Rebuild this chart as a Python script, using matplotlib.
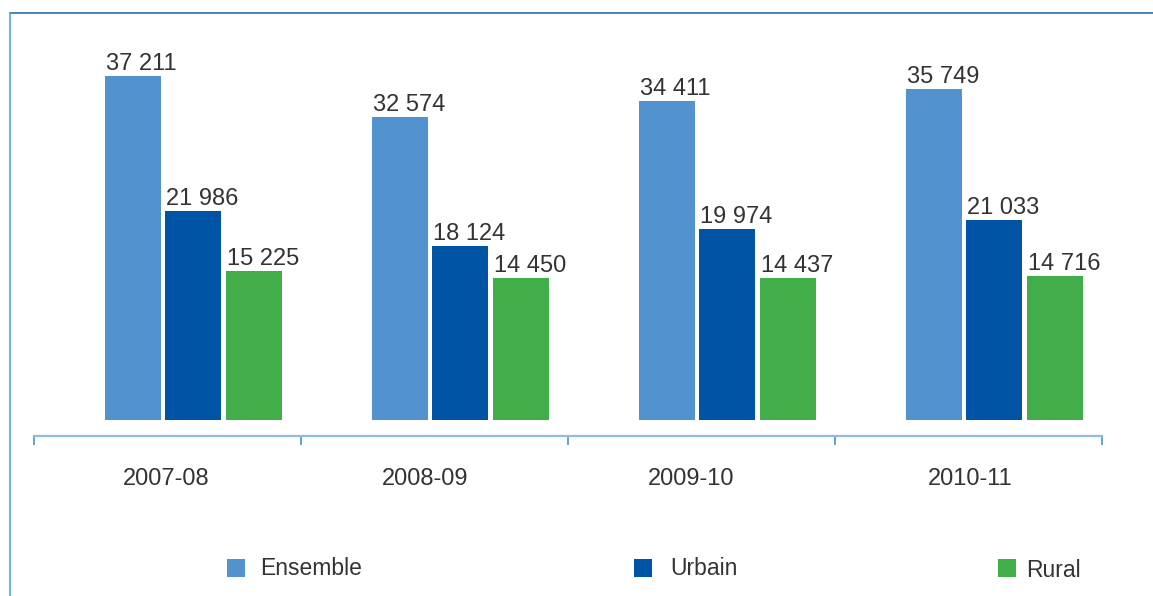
import matplotlib
matplotlib.use('Agg')
import matplotlib.pyplot as plt
from matplotlib.patches import Rectangle
from matplotlib.lines import Line2D
import numpy as np

plt.rcParams['font.family'] = ['Liberation Sans', 'DejaVu Sans']

# ---- data ----
years = ['2007-08', '2008-09', '2009-10', '2010-11']
series = ['Ensemble', 'Urbain', 'Rural']
ensemble = [37211, 32574, 34411, 35749]
urbain = [21986, 18124, 19974, 21033]
rural = [15225, 14450, 14437, 14716]

colors = ['#5292CE', '#0054A6', '#41AE49']
text_color = '#333333'

W, H = 1153, 596
fig = plt.figure(figsize=(W / 100, H / 100), dpi=100)


def fx(px):
    return px / W


def fy(py):
    return 1 - py / H


ax = fig.add_axes([fx(34), fy(420), fx(1102) - fx(34), fy(20) - fy(420)])
base = -1470
ax.set_xlim(-0.5, 3.5)
ax.set_ylim(base, base + 400 / 0.0089)

x = np.arange(len(years))
group_shift = 0.097
spacing = 0.2266
width = 0.21
for k, (vals, c) in enumerate(zip([ensemble, urbain, rural], colors)):
    pos = x + group_shift + (k - 1) * spacing
    heights = np.array(vals) - base
    ax.bar(pos, heights, bottom=base, width=width, color=c, align='center')
    for p, v in zip(pos, vals):
        ax.annotate(f"{v:,}".replace(",", " "), xy=(p - width / 2, v),
                    xytext=(0.7, 4.3), textcoords='offset points',
                    ha='left', va='baseline', fontsize=17, color=text_color)

for s in ['left', 'right', 'top']:
    ax.spines[s].set_visible(False)
ax.spines['bottom'].set_position(('outward', 11.5))
ax.spines['bottom'].set_color('#8BBDE3')
ax.spines['bottom'].set_linewidth(1.6)
ax.set_yticks([])
ax.set_xticks(np.arange(-0.5, 4, 1))
ax.set_xticklabels([''] * 5)
ax.tick_params(axis='x', which='major', length=6.5, width=1.1,
               color='#3C87C7', direction='out', labelbottom=False)

# category labels (slightly offset from interval centres, as in the original)
label_dx_px = [-1, -9, -10, 2]
for xi, lab, dx in zip(x, years, label_dx_px):
    ax.annotate(lab, xy=(xi, 0), xycoords=('data', 'axes fraction'),
                xytext=(dx * 0.72, -65 * 0.72), textcoords='offset points',
                ha='center', va='baseline', fontsize=17, color=text_color)

# ---- legend ----
leg_sq_x = [227, 634, 998]
leg_tx_x = [260, 670, 1026]
leg_base = [575, 575, 577]
for name, c, sx, tx, tb in zip(series, colors, leg_sq_x, leg_tx_x, leg_base):
    fig.add_artist(Rectangle((fx(sx), fy(577)), 18 / W, 18 / H,
                             transform=fig.transFigure, color=c, lw=0))
    fig.text(fx(tx), fy(tb), name, fontsize=16.5, color=text_color,
             ha='left', va='baseline')

# ---- frame ----
fig.add_artist(Line2D([fx(10), 1], [fy(13), fy(13)], transform=fig.transFigure,
                      color='#2A6EB0', lw=1.2))
fig.add_artist(Line2D([fx(10), fx(10)], [fy(13), 0], transform=fig.transFigure,
                      color='#5AA5DA', lw=1.2))

fig.savefig('out.png', dpi=100)
